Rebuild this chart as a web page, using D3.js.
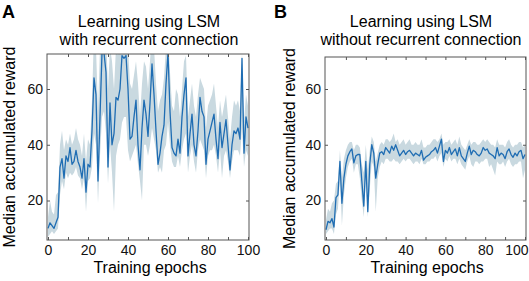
<!DOCTYPE html>
<html>
<head>
<meta charset="utf-8">
<script src="https://cdn.jsdelivr.net/npm/d3@7"></script>
<style>
  body { margin: 0; background: #fff; }
  svg { display: block; font-family: Arial, "Liberation Sans", Helvetica, sans-serif; }
</style>
</head>
<body>
<div id="chart"></div>
<script>
// epochs 0..100
const epochs = d3.range(0, 101);

// panel A: with recurrent connection
const medianA = [10,12,11,10,12,14,32,35,28,36,34,39,33,34,38,34,32,28,35,23,33,32,45,64,58,27,50,73,73,66,
  32,55,40,44,57,56,60,72,71,72,60,42,43,50,56,40,31,46,56,51,43,55,69,58,45,33,37,43,47,62,
  73,52,39,37,36,42,37,50,58,64,36,44,51,40,36,45,57,52,50,33,42,45,48,51,42,35,48,39,44,49,
  40,31,40,45,44,46,42,71,37,50,46];
const lowerA = [7,8,9,8,9,10,22,27,24,30,28,30,29,30,32,29,28,24,28,16,27,28,32,44,40,19,36,50,52,44,
  26,40,30,16,36,40,42,48,50,50,38,34,36,38,40,33,27,20,40,40,36,40,46,42,38,30,32,30,38,40,
  48,40,34,32,32,36,32,38,42,44,30,36,40,34,30,38,42,40,38,28,36,38,38,40,36,30,38,28,36,38,
  34,28,34,38,38,38,36,46,32,38,36];
const upperA = [14,20,16,15,22,23,40,45,38,42,40,44,40,42,46,42,40,36,44,34,42,40,56,80,75,52,75,80,80,80,
  60,75,70,60,75,72,80,80,80,80,75,62,60,65,70,62,50,62,70,68,60,70,80,75,62,52,56,58,64,75,
  80,66,54,52,60,58,50,60,70,72,50,56,62,54,50,58,64,62,60,46,54,56,58,62,54,46,56,50,54,58,
  50,42,50,56,54,56,52,73,48,58,54];

// panel B: without recurrent connection
const medianB = [9.5,12.5,12,13.5,10.5,21,22,34,19,28,33,36,37.5,38.5,33.5,36,36.5,36.5,27,18,34,16,33,40,37,28,33,37,37.5,36.5,
  39,38,37,39.5,38,40,38,36,37,38,36.5,37.5,38,37,36,37,36.5,36,38,34.5,35.5,36,36.5,37.5,38,39,37,39.5,42,34,
  38,37,39,36.5,37.5,38.5,36,39,36,35,34,37,39.5,36.5,38,37.5,36.5,36,37,39,38,38.5,37,36.5,36,35,39,36,37,36.5,
  35,37.5,38.5,36.5,35.5,37,36,37.5,38,35,36.5];
const lowerB = [8,9,10,10,8,15,17,28,11,22,28,32,34,35,30,33,33,28,20,14,28,14,24,34,32,16,28,32,34,33,
  35,35,34,34,35,34,34,33,34,35,34,35,35,34,33,34,34,33,35,33,33,34,34,35,35,36,34,36,37,32,
  35,34,36,34,35,35,33,35,33,32,31,34,36,33,32,34,34,33,34,34,35,35,32,33,31,29,34,33,33,34,
  32,34,35,33,32,33,33,34,34,28,31];
const upperB = [13,17,16,19,20,26,27,38,28,35,38,40,41,41,38,40,40,39,33,30,40,31,38,43,41,34,37,40,41,40,
  42,42,41,42,44,41,42,40,41,42,40,41,42,40,40,41,40,40,42,39,39,40,40,41,42,42,41,42,44,40,
  41,41,42,40,41,42,40,43,40,39,38,40,42,40,41,41,40,40,41,42,41,42,41,40,40,39,42,40,40,40,
  39,41,42,40,39,40,40,41,41,39,40];

const xTicks = [0, 20, 40, 60, 80, 100];
const yTicks = [20, 40, 60];

const width = 529, height = 281;
const lineColor = '#1f6db3';
const bandColor = '#c9d9e0';
const axisColor = '#555';

const svg = d3.select('#chart').append('svg')
  .attr('width', width)
  .attr('height', height);

const panels = [
  { id: 'A', left: 47, right: 249, top: 54, median: medianA, lower: lowerA, upper: upperA,
    xMax: 100.5, title: ['Learning using LSM', 'with recurrent connection'], titleX: 149,
    letterX: 2, ylabX: 14.5, xlabX: 150 },
  { id: 'B', left: 325, right: 526, top: 57, median: medianB, lower: lowerB, upper: upperB,
    xMax: 100.5, title: ['Learning using LSM', 'without recurrent connection'], titleX: 421,
    letterX: 274, ylabX: 295, xlabX: 427 }
];

const bottom = 240;

panels.forEach(p => {
  const x = d3.scaleLinear().domain([0, p.xMax]).range([p.left + 1, p.right]);
  const y = d3.scaleLinear().domain([20, 60]).range([200.5, 89]);

  const g = svg.append('g');

  g.append('clipPath').attr('id', 'clip' + p.id)
    .append('rect')
    .attr('x', p.left).attr('y', p.top)
    .attr('width', p.right - p.left).attr('height', bottom - p.top);

  const plot = g.append('g').attr('clip-path', `url(#clip${p.id})`);

  const area = d3.area()
    .x((d, i) => x(epochs[i]))
    .y0((d, i) => y(p.lower[i]))
    .y1((d, i) => y(p.upper[i]));

  plot.append('path')
    .datum(p.median)
    .attr('d', area)
    .attr('fill', bandColor);

  const line = d3.line()
    .x((d, i) => x(epochs[i]))
    .y(d => y(d));

  plot.append('path')
    .datum(p.median)
    .attr('d', line)
    .attr('fill', 'none')
    .attr('stroke', lineColor)
    .attr('stroke-width', 1.3)
    .attr('stroke-linejoin', 'round');

  // axes (inward ticks, mirrored on top and right)
  const styleAxis = sel => {
    sel.select('.domain').remove();
    sel.selectAll('.tick line').attr('stroke', axisColor);
    sel.selectAll('.tick text').attr('fill', '#111').style('font-size', '14px')
      .style('font-family', 'Arial, "Liberation Sans", Helvetica, sans-serif');
  };

  const xAxis = g.append('g')
    .attr('transform', `translate(0,${bottom})`)
    .call(d3.axisBottom(x).tickValues(xTicks).tickSize(-3).tickPadding(5).tickFormat(d3.format('d')))
    .call(styleAxis);

  // keep the last label inside the window on the right panel
  if (p.id === 'B') {
    xAxis.selectAll('.tick text')
      .filter(d => d === 100)
      .attr('text-anchor', 'end')
      .attr('x', 3);
  }

  g.append('g')
    .attr('transform', `translate(0,${p.top})`)
    .call(d3.axisTop(x).tickValues(d3.range(10, 101, 10)).tickSize(-3).tickFormat(''))
    .call(styleAxis);

  g.append('g')
    .attr('transform', `translate(0,${bottom})`)
    .call(d3.axisBottom(x).tickValues(d3.range(10, 101, 20)).tickSize(-3).tickFormat(''))
    .call(styleAxis);

  g.append('g')
    .attr('transform', `translate(${p.left},0)`)
    .call(d3.axisLeft(y).tickValues(yTicks).tickSize(-3).tickPadding(4).tickFormat(d3.format('d')))
    .call(styleAxis);

  g.append('g')
    .attr('transform', `translate(${p.right},0)`)
    .call(d3.axisRight(y).tickValues(yTicks).tickSize(-3).tickFormat(''))
    .call(styleAxis);

  g.append('rect')
    .attr('x', p.left).attr('y', p.top)
    .attr('width', p.right - p.left).attr('height', bottom - p.top)
    .attr('fill', 'none')
    .attr('stroke', axisColor)
    .attr('stroke-width', 1);

  // titles and labels
  g.append('text')
    .attr('x', p.titleX).attr('y', 27)
    .attr('text-anchor', 'middle')
    .style('font-size', '16px')
    .text(p.title[0]);
  g.append('text')
    .attr('x', p.titleX).attr('y', 45)
    .attr('text-anchor', 'middle')
    .style('font-size', '16px')
    .text(p.title[1]);

  g.append('text')
    .attr('x', p.letterX).attr('y', 18)
    .style('font-size', '18px')
    .style('font-weight', 'bold')
    .text(p.id);

  g.append('text')
    .attr('transform', `translate(${p.ylabX},${(p.top + bottom) / 2}) rotate(-90)`)
    .attr('text-anchor', 'middle')
    .style('font-size', '16px')
    .text('Median accumulated reward');

  g.append('text')
    .attr('x', p.xlabX).attr('y', 273)
    .attr('text-anchor', 'middle')
    .style('font-size', '16px')
    .text('Training epochs');
});
</script>
</body>
</html>
